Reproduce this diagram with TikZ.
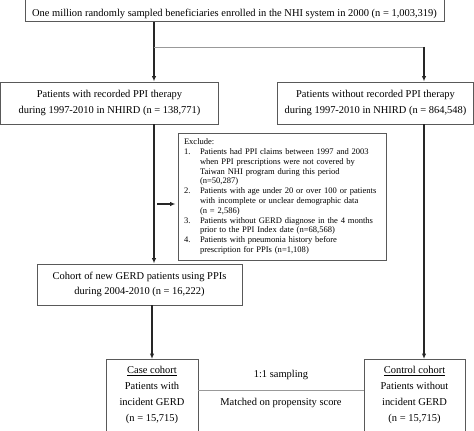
\documentclass[tikz,border=0pt]{standalone}
\usepackage{fontspec}
\setmainfont{Liberation Serif}
\usetikzlibrary{arrows.meta}
\newcommand{\exitem}[2]{\mbox{\makebox[12pt][l]{#1}#2}}
\newcommand{\exmore}[1]{\mbox{\hspace*{12pt}#1}}
\begin{document}
\begin{tikzpicture}[x=0.75pt, y=-0.75pt,
  every node/.style={font=\fontsize{7.85}{11.4}\selectfont, text=black},
  box/.style={draw=black!65, line width=0.7pt, align=center, inner sep=0pt},
  exbox/.style={draw=black!65, line width=0.7pt, align=left, inner xsep=4.5pt, inner ysep=0pt, text width=147pt, font=\fontsize{6.4}{7.35}\selectfont},
  arr/.style={-{Latex[length=4pt,width=3.2pt]}, line width=0.8pt, black!85},
  link/.style={line width=0.7pt, black!40}]
  \clip (0,0) rectangle (474,431);
  \fill[white] (0,0) rectangle (474,431);
  % cohorts
  \node[box, anchor=south, minimum width=314.25pt, text height=20pt, text depth=4pt] (all) at (234.5,22) {One million randomly sampled beneficiaries enrolled in the NHI system in 2000 (n = 1,003,319)};
  \node[box, minimum width=163.5pt, minimum height=31.5pt] (ppi) at (109.5,103) {Patients with recorded PPI therapy\\during 1997-2010 in NHIRD (n = 138,771)};
  \node[box, minimum width=147pt, minimum height=31.5pt] (noppi) at (375.5,103) {Patients without recorded PPI therapy\\during 1997-2010 in NHIRD (n = 864,548)};
  \node[exbox, minimum height=95.25pt] (excl) at (282,196.5) {\mbox{Exclude:}\\
    \exitem{1.}{Patients had PPI claims between 1997 and 2003}\\
    \exmore{when PPI prescriptions were not covered by}\\
    \exmore{Taiwan NHI program during this period}\\
    \exmore{(n=50,287)}\\
    \exitem{2.}{Patients with age under 20 or over 100 or patients}\\
    \exmore{with incomplete or unclear demographic data}\\
    \exmore{(n = 2,586)}\\
    \exitem{3.}{Patients without GERD diagnose in the 4 months}\\
    \exmore{prior to the PPI Index date (n=68,568)}\\
    \exitem{4.}{Patients with pneumonia history before}\\
    \exmore{prescription for PPIs (n=1,108)}};
  \node[box, minimum width=153.75pt, minimum height=30.75pt] (gerd) at (139.5,284.5) {Cohort of new GERD patients using PPIs\\during 2004-2010 (n = 16,222)};
  \node[box, anchor=north, minimum width=69pt, text depth=40pt, inner ysep=5pt, font=\fontsize{7.85}{12}\selectfont] (case) at (152,359) {\underline{Case cohort}\\Patients with\\incident GERD\\(n = 15,715)};
  \node[box, anchor=north, minimum width=75.75pt, text depth=40pt, inner ysep=5pt, font=\fontsize{7.85}{12}\selectfont] (ctrl) at (414.5,359) {\underline{Control cohort}\\Patients without\\incident GERD\\(n = 15,715)};
  % connectors
  \coordinate (split) at (154,47);
  \coordinate (rgt) at (424,47);
  \coordinate (exfrom) at (157,204);
  \draw[arr] (all.south -| split) -- (ppi.north -| split);
  \draw[link] (split) -- (rgt);
  \draw[arr] (rgt) -- (noppi.north -| rgt);
  \draw[arr] (ppi.south -| split) -- (gerd.north -| split);
  \draw[arr] (exfrom) -- ([xshift=-1.5pt]excl.west |- exfrom);
  \draw[arr] (gerd.south -| case) -- (case.north);
  \draw[arr] (noppi.south -| rgt) -- (ctrl.north -| rgt);
  \draw[link] (case.east |- 0,390) -- (ctrl.west |- 0,390)
    node[midway, above=3.75pt] (ratio) {1:1 sampling}
    node[midway, below=2.25pt] (match) {Matched on propensity score};
\end{tikzpicture}
\end{document}
